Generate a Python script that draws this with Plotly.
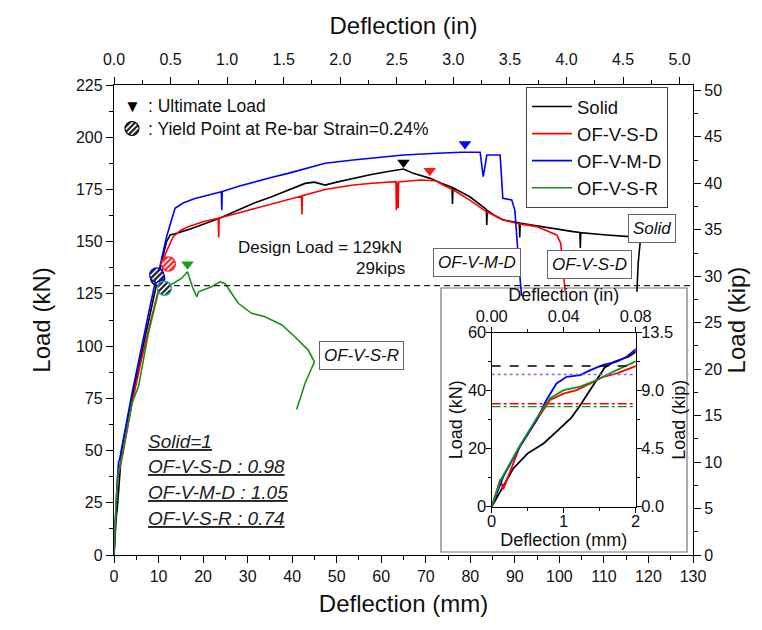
import math
import plotly.graph_objects as go

FONT = "Liberation Sans, Arial, sans-serif"
MM_PER_IN = 25.4
KN_PER_KIP = 4.448

# ---------------- data (deflection mm, load kN) ----------------
solid_x = [0, 0.3, 0.5, 0.72, 0.9, 1.1, 1.23, 1.37, 1.48, 1.57, 1.7, 1.9, 2.0, 4.0, 6.0, 8.0, 9.8, 11.0, 11.8,
           12.6, 14.1, 17.0, 20.4, 24.0, 27.9, 31.5, 35.4, 39.0, 42.9, 45.0, 47.4, 50.0, 53.7, 57.5, 61.2, 65.0,
           67.2, 71.0, 73.5, 75.9, 76.0, 76.1, 79.9, 82.0, 83.6, 83.7, 83.8, 85.5, 87.4, 91.0, 91.1, 91.2, 95.6,
           98.6, 103.1, 104.6, 104.7, 104.8, 107.0, 110.6, 115.8, 118.2, 117.7, 117.4]
solid_y = [0, 13.2, 18.4, 21.8, 25.9, 30.5, 35.0, 40.2, 44.3, 48.0, 50.0, 51.7, 53.4, 75.0, 95.0, 114.0, 132.0,
           143.0, 150.0, 153.2, 154.0, 156.0, 158.8, 161.5, 165.2, 168.5, 171.5, 174.5, 177.9, 178.5, 177.1, 178.5,
           180.3, 182.0, 183.5, 184.8, 182.7, 180.3, 178.0, 176.0, 168.0, 175.8, 171.5, 168.0, 165.5, 158.0, 165.0,
           162.5, 160.4, 159.0, 152.0, 158.8, 157.2, 156.4, 154.8, 154.4, 147.0, 154.3, 154.0, 153.2, 152.4, 151.0,
           140.0, 126.0]

sd_x = [0, 0.12, 0.16, 0.39, 0.625, 0.81, 1.0, 1.18, 1.37, 1.55, 1.74, 2.0, 4.0, 6.0, 8.0, 10.0, 11.5, 13.3, 15.0,
        16.7, 20.0, 23.4, 23.5, 23.6, 27.5, 31.7, 37.0, 42.1, 42.2, 42.3, 47.4, 53.7, 58.0, 63.3, 63.4, 63.5, 63.8,
        63.9, 68.7, 72.1, 74.0, 76.2, 79.9, 83.7, 87.4, 91.0, 94.9, 97.5, 99.4, 100.3, 101.3]
sd_y = [0, 9.5, 6.0, 20.7, 29.9, 36.8, 39.0, 40.2, 42.5, 44.8, 46.0, 48.5, 72.0, 92.0, 110.0, 127.0, 144.0, 152.4,
        155.5, 157.2, 159.5, 161.2, 152.0, 161.3, 163.5, 166.0, 169.0, 171.9, 163.0, 172.0, 175.0, 177.1, 178.0,
        178.7, 165.0, 178.6, 166.0, 178.6, 179.5, 179.2, 177.0, 174.7, 169.9, 164.3, 160.4, 158.5, 157.2, 155.0,
        153.2, 149.2, 126.0]

md_x = [0, 0.16, 0.39, 0.625, 0.76, 0.9, 1.04, 1.23, 1.37, 1.55, 1.74, 1.875, 2.0, 4.0, 6.0, 8.0, 9.6, 10.3, 11.8,
        13.7, 15.5, 18.0, 20.4, 24.1, 24.2, 24.3, 28.0, 31.7, 35.5, 39.1, 43.0, 47.4, 53.7, 60.0, 65.0, 72.5, 78.0,
        82.2, 82.6, 82.9, 83.3, 83.7, 86.7, 87.1, 87.3, 89.3, 90.0, 90.6, 91.2, 91.5]
md_y = [0, 10.3, 20.7, 29.9, 36.8, 42.5, 44.8, 45.4, 47.1, 48.9, 50.0, 51.7, 54.3, 77.0, 98.0, 118.0, 134.0, 138.0,
        152.4, 166.0, 168.5, 170.5, 171.9, 173.9, 165.0, 174.0, 176.5, 178.7, 180.8, 182.7, 185.0, 187.5, 189.1,
        190.5, 191.5, 192.3, 192.8, 192.8, 185.0, 181.1, 186.0, 191.5, 191.5, 180.0, 170.8, 170.0, 165.0, 147.6,
        130.0, 124.0]

sr_x = [0, 0.12, 0.39, 0.625, 0.81, 1.0, 1.23, 1.46, 1.69, 2.0, 4.0, 5.5, 7.7, 9.9, 11.1, 13.3, 15.2, 16.5, 17.6,
        18.6, 19.0, 21.9, 23.8, 24.9, 26.4, 27.9, 30.9, 33.9, 37.7, 40.6, 43.6, 45.0, 42.9, 41.0]
sr_y = [0, 9.0, 21.0, 30.5, 37.4, 40.2, 41.4, 43.7, 46.6, 49.7, 72.6, 80.6, 106.0, 125.3, 128.4, 130.0, 132.5,
        135.6, 128.4, 123.6, 126.0, 128.4, 130.8, 130.0, 125.3, 120.5, 115.7, 114.1, 110.1, 104.5, 98.1, 92.5,
        82.2, 69.7]

series_names = ["Solid", "OF-V-S-D", "OF-V-M-D", "OF-V-S-R"]
series_x = [solid_x, sd_x, md_x, sr_x]
series_y = [solid_y, sd_y, md_y, sr_y]

ultimate_x = [65.0, 70.9, 78.8, 16.5]
ultimate_y = [187.9, 183.9, 196.8, 139.2]
yield_x = [9.8, 12.2, 9.6, 11.3]
yield_y = [132.5, 139.3, 134.0, 127.7]
ratio_labels = ["Solid=1", "OF-V-S-D : 0.98", "OF-V-M-D : 1.05", "OF-V-S-R : 0.74"]
design_load_kN = 129
design_load_kip = 29
inset_ref_loads = [48.5, 35.5, 45.6, 34.5]

# ---------------- styles ----------------
colors = ["#000000", "#ff0000", "#0000ff", "#189018"]
ult_colors = ["#000000", "#ff1a1a", "#0000ff", "#16a016"]
yield_edge = ["#000000", "#ff2020", "#0000ff", "#1c9fb0"]
yield_fill = ["#2a2a2a", "#ff3030", "#2a2a2a", "#2a2a2a"]
inset_dash = ["dash", "dashdot", "dot", "dashdot"]
inset_ref_colors = ["#000000", "#ff0000", "#7070ff", "#189018"]

L, R, T, B = 114, 69, 85, 75
W, H = 762, 630
PW, PH = W - L - R, H - T - B


def px(xp):
    return (xp - L) / PW


def py(yp):
    return (H - B - yp) / PH


fig = go.Figure()

# main curves
for nm, xs, ys, c in zip(series_names, series_x, series_y, colors):
    fig.add_trace(go.Scatter(x=xs, y=ys, mode="lines", name=nm, legendgroup=nm,
                             line=dict(color=c, width=1.6), xaxis="x", yaxis="y"))

# design load line
fig.add_trace(go.Scatter(x=[0, 130], y=[design_load_kN, design_load_kN], mode="lines", showlegend=False,
                         line=dict(color="#222", width=1.2, dash="6px,4px"), hoverinfo="skip"))

# ultimate markers
for i in range(4):
    fig.add_trace(go.Scatter(x=[ultimate_x[i]], y=[ultimate_y[i]], mode="markers", showlegend=False,
                             marker=dict(symbol="triangle-down", size=11, color=ult_colors[i],
                                         line=dict(width=0)), hoverinfo="skip"))

# secondary unit axes (main)
fig.add_trace(go.Scatter(x=[v / MM_PER_IN for v in solid_x], y=[v / KN_PER_KIP for v in solid_y],
                         xaxis="x2", yaxis="y2", mode="lines", opacity=0, line=dict(width=0),
                         showlegend=False, hoverinfo="skip"))

# inset curves
for xs, ys, c in zip(series_x, series_y, colors):
    fig.add_trace(go.Scatter(x=xs, y=ys, mode="lines", showlegend=False, line=dict(color=c, width=1.8),
                             xaxis="x3", yaxis="y3", hoverinfo="skip"))
for v, c, d in zip(inset_ref_loads, inset_ref_colors, inset_dash):
    fig.add_trace(go.Scatter(x=[0, 2], y=[v, v], mode="lines", showlegend=False,
                             line=dict(color=c, width=1.4, dash=d), xaxis="x3", yaxis="y3", hoverinfo="skip"))
fig.add_trace(go.Scatter(x=[v / MM_PER_IN for v in solid_x], y=[v / KN_PER_KIP for v in solid_y],
                         xaxis="x4", yaxis="y4", mode="lines", opacity=0, line=dict(width=0),
                         showlegend=False, hoverinfo="skip"))


def hatched(xref, yref, x, y, r, fill, edge, ew=1.5):
    out = [dict(type="circle", xref=xref, yref=yref, xsizemode="pixel", ysizemode="pixel",
                xanchor=x, yanchor=y, x0=-r, x1=r, y0=-r, y1=r, fillcolor=fill,
                line=dict(color=edge, width=ew), layer="above")]
    s2 = math.sqrt(0.5)
    for f in (-0.55, 0.0, 0.55):
        d = f * r
        h = math.sqrt(max(r * r - d * d, 0)) - 0.8
        cx, cy = -d * s2, d * s2
        out.append(dict(type="line", xref=xref, yref=yref, xsizemode="pixel", ysizemode="pixel",
                        xanchor=x, yanchor=y, x0=cx - h * s2, y0=cy - h * s2, x1=cx + h * s2, y1=cy + h * s2,
                        line=dict(color="white", width=1.5), layer="above"))
    return out


shapes = []
# inset frame
shapes.append(dict(type="rect", xref="paper", yref="paper", x0=px(441), x1=px(687), y0=py(552), y1=py(288),
                   fillcolor="white", line=dict(color="#777", width=1.2), layer="below"))
for i in range(4):
    shapes += hatched("x", "y", yield_x[i], yield_y[i], 7, yield_fill[i], yield_edge[i])
# key symbol
shapes += hatched("paper", "paper", px(132), py(128.5), 7, "#2a2a2a", "#000000", 1.2)

ann = []
tf = dict(family=FONT, size=17.5, color="#111")
ann.append(dict(xref="paper", yref="paper", x=px(132), y=py(106), text="▼", showarrow=False,
                font=dict(family=FONT, size=17, color="#000"), xanchor="center", yanchor="middle"))
ann.append(dict(xref="paper", yref="paper", x=px(146), y=py(106), text=": Ultimate Load", showarrow=False,
                font=tf, xanchor="left", yanchor="middle"))
ann.append(dict(xref="paper", yref="paper", x=px(146), y=py(128.5),
                text=": Yield Point at Re-bar Strain=0.24%", showarrow=False, font=tf,
                xanchor="left", yanchor="middle"))
ann.append(dict(xref="paper", yref="paper", x=px(404), y=py(247),
                text=f"Design Load = {design_load_kN}kN", showarrow=False,
                font=dict(family=FONT, size=17, color="#111"), xanchor="right", yanchor="middle"))
ann.append(dict(xref="paper", yref="paper", x=px(407), y=py(268), text=f"{design_load_kip}kips",
                showarrow=False, font=dict(family=FONT, size=17, color="#111"), xanchor="right",
                yanchor="middle"))

box_font = dict(family=FONT, size=17, color="#111")
for txt, cx, cy in [("OF-V-M-D", 476.5, 262.5), ("OF-V-S-D", 589.5, 264), ("Solid", 652, 228),
                    ("OF-V-S-R", 361.5, 355)]:
    ann.append(dict(xref="paper", yref="paper", x=px(cx), y=py(cy), text=f"<i>{txt}</i>", showarrow=False,
                    font=box_font, bgcolor="white", bordercolor="#666", borderwidth=1, borderpad=4,
                    xanchor="center", yanchor="middle"))

for txt, cy in zip(ratio_labels, [441.7, 466.7, 492.7, 518.3]):
    ann.append(dict(xref="paper", yref="paper", x=px(146), y=py(cy), text=f"<u><i>{txt}</i></u>",
                    showarrow=False, font=dict(family=FONT, size=19, color="#222"), xanchor="left",
                    yanchor="middle"))


def axis(**kw):
    d = dict(showline=True, linecolor="black", linewidth=1.3, ticks="outside", ticklen=7, tickwidth=1.3,
             tickcolor="black", showgrid=False, zeroline=False, automargin=False,
             tickfont=dict(family=FONT, size=16, color="#111"),
             title_font=dict(family=FONT, size=24, color="#111"))
    d.update(kw)
    return d


def minor(dt, ln=4):
    return dict(ticks="outside", ticklen=ln, dtick=dt, tickcolor="black", tickwidth=1.3, showgrid=False)


ins_tf = dict(family=FONT, size=16.5, color="#111")
ins_ttf = dict(family=FONT, size=18, color="#111")

fig.update_layout(
    width=W, height=H, margin=dict(l=L, r=R, t=T, b=B),
    paper_bgcolor="white", plot_bgcolor="white",
    font=dict(family=FONT, color="#111"),
    xaxis=axis(domain=[0, 1], anchor="y", range=[0, 130], tick0=0, dtick=10, minor=minor(5),
               title=dict(text="Deflection (mm)", standoff=10)),
    xaxis2=axis(overlaying="x", side="top", anchor="y", range=[0, 130 / MM_PER_IN], tick0=0, dtick=0.5,
                tickformat=".1f", minor=minor(0.25), ticklabelstandoff=5,
                title=dict(text="Deflection (in)", standoff=10)),
    yaxis=axis(domain=[0, 1], anchor="x", range=[0, 225], tick0=0, dtick=25, minor=minor(12.5),
               title=dict(text="Load (kN)", standoff=18)),
    yaxis2=axis(overlaying="y", side="right", anchor="x", range=[0, 225 / KN_PER_KIP], tick0=0, dtick=5,
                minor=minor(2.5), title=dict(text="Load (kip)", standoff=6)),
    xaxis3=axis(domain=[px(491.7), px(635.7)], anchor="y3", range=[0, 2], tick0=0, dtick=1, ticklen=5,
                minor=minor(0.5, 3), tickfont=ins_tf, ticklabelstandoff=-6,
                title=dict(text="Deflection (mm)", standoff=0, font=ins_ttf)),
    xaxis4=axis(overlaying="x3", side="top", anchor="y3", range=[0, 0.08], tick0=0, dtick=0.04, ticklen=5,
                tickformat=".2f", minor=minor(0.02, 3), tickfont=ins_tf, ticklabelstandoff=-2,
                title=dict(text="Deflection (in)", standoff=0, font=ins_ttf)),
    yaxis3=axis(domain=[py(506.7), py(332.7)], anchor="x3", range=[0, 60], tick0=0, dtick=20, ticklen=5,
                minor=minor(10, 3), tickfont=ins_tf, ticklabelstandoff=-4,
                title=dict(text="Load (kN)", standoff=0, font=ins_ttf)),
    yaxis4=axis(overlaying="y3", side="right", anchor="x3", range=[0, 13.5], tick0=0, dtick=4.5, ticklen=5,
                tickformat=".1f", minor=minor(2.25, 3), tickfont=ins_tf, ticklabelstandoff=-4,
                title=dict(text="Load (kip)", standoff=0, font=ins_ttf)),
    legend=dict(x=px(526), y=py(87), xanchor="left", yanchor="top", bgcolor="white", bordercolor="#444",
                borderwidth=1, font=dict(family=FONT, size=18.5, color="#111"), traceorder="normal",
                itemwidth=40),
    shapes=shapes, annotations=ann, showlegend=True,
)

fig.write_html("out.html")
